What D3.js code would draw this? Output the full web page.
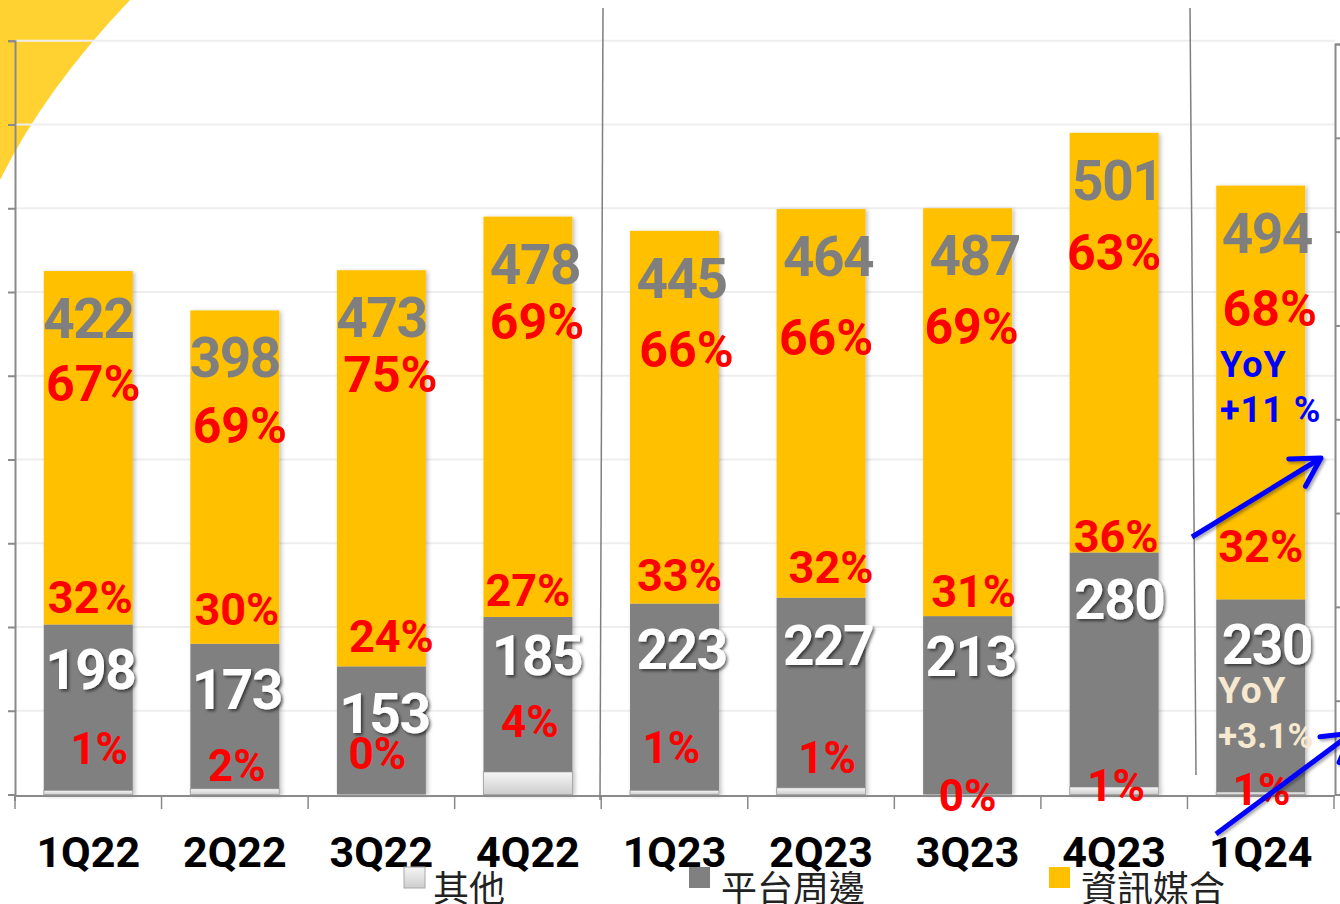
<!DOCTYPE html>
<html>
<head>
<meta charset="utf-8">
<script src="https://cdn.jsdelivr.net/npm/d3@7"></script>
<style>
  body { margin: 0; background: #fff; }
  svg { display: block; }
  .num { font-family: Roboto, "Open Sans", sans-serif; font-weight: 700; }
  .legend text { font-family: "Noto Sans CJK TC", "Noto Sans CJK SC", sans-serif; }
</style>
</head>
<body>
<svg id="chart" width="1340" height="904"></svg>
<script>
// ---- data ----
const quarters = ['1Q22', '2Q22', '3Q22', '4Q22', '1Q23', '2Q23', '3Q23', '4Q23', '1Q24'];
const infoValues = [422, 398, 473, 478, 445, 464, 487, 501, 494];      // 資訊媒合
const platformValues = [198, 173, 153, 185, 223, 227, 213, 280, 230];  // 平台周邊
const otherValues = [5, 7, 0, 27, 5, 8, 0, 9, 3];                      // 其他
const infoShare = ['67%', '69%', '75%', '69%', '66%', '66%', '69%', '63%', '68%'];
const platformShare = ['32%', '30%', '24%', '27%', '33%', '32%', '31%', '36%', '32%'];
const otherShare = ['1%', '2%', '0%', '4%', '1%', '1%', '0%', '1%', '1%'];
const seriesKeys = ['other', 'platform', 'info'];
const seriesNames = ['其他', '平台周邊', '資訊媒合'];
const yTicks = d3.range(0, 901, 100);
const rightTicks = d3.range(0, 9);

// ---- hand placed label nudges (px), like the text boxes in the original slide ----
const nudge = {
  totalDx:    [0, 0, 0, 7, 7, 7, 7, 3, 6],
  topPctDx:   [5, 5, 9, 9, 12, 5, 4, 0, 9],
  topPctDy:   [130, 133, 122, 122, 136, 146, 136, 137, 140],
  midPctDx:   [2, 2, 10, 0, 5, 10, 6, 2, 0],
  midPctDy:   [-11, -19, -14, -11, -13, -15, -9, 0, -37],
  platDx:     [2, 2, 3, 9, 7, 7, 3, 5, 6],
  platDy:     [65, 65, 67, 58, 65, 67, 60, 67, 65],
  lowPctDx:   [11, 2, -4, 2, -3, 6, 0, 2, 1],
  lowPctDy:   [-31, -14, -26, -58, -32, -22, 16, 6, 10]
};

const colors = { other: 'url(#otherGrad)', platform: '#808080', info: '#FFC000' };

const svg = d3.select('#chart');
const defs = svg.append('defs');

const grad = defs.append('linearGradient').attr('id', 'otherGrad')
    .attr('x1', 0).attr('y1', 0).attr('x2', 0).attr('y2', 1);
grad.append('stop').attr('offset', '0%').attr('stop-color', '#f6f6f6');
grad.append('stop').attr('offset', '100%').attr('stop-color', '#cdcdcd');

defs.append('filter').attr('id', 'barShadow').attr('x', '-10%').attr('width', '130%')
  .append('feDropShadow').attr('dx', 2).attr('dy', 1).attr('stdDeviation', 2)
    .attr('flood-color', '#000').attr('flood-opacity', 0.25);

defs.append('filter').attr('id', 'textShadow')
  .append('feDropShadow').attr('dx', 2).attr('dy', 2).attr('stdDeviation', 1.5)
    .attr('flood-color', '#000').attr('flood-opacity', 0.55);

defs.append('filter').attr('id', 'arrowShadow')
  .append('feDropShadow').attr('dx', 2).attr('dy', 2).attr('stdDeviation', 1.5)
    .attr('flood-color', '#000').attr('flood-opacity', 0.35);

defs.append('marker').attr('id', 'head')
    .attr('viewBox', '-7 -5 9 10').attr('refX', 0).attr('refY', 0)
    .attr('markerWidth', 9).attr('markerHeight', 10).attr('orient', 'auto')
  .append('path').attr('d', 'M-5.6,-3.2 L0,0 L-5.6,3.2')
    .attr('fill', 'none').attr('stroke', '#0000ff').attr('stroke-width', 1)
    .attr('stroke-linecap', 'round').attr('stroke-linejoin', 'round');

// decorative yellow corner
svg.append('path')
    .attr('d', 'M0,0 L130,0 Q45,89 0,180 Z')
    .attr('fill', '#FFD232');

// scales
const x = d3.scaleBand()
    .domain(quarters)
    .range([15, 1334])
    .paddingInner(0.393)
    .paddingOuter(0.1965);

const y = d3.scaleLinear()
    .domain([0, 900])
    .range([794.5, 40.75]);

const yRight = d3.scaleLinear()
    .domain([0, 8])
    .range([794.5, 44]);

// gridlines
svg.append('g').selectAll('line')
    .data(yTicks.slice(1))
  .join('line')
    .attr('x1', 15).attr('x2', 1335)
    .attr('y1', d => y(d)).attr('y2', d => y(d))
    .attr('stroke', '#eeeeee').attr('stroke-width', 2);

// stacked bars
const rows = quarters.map((q, i) => ({
  q, other: otherValues[i], platform: platformValues[i], info: infoValues[i]
}));
const stacked = d3.stack().keys(seriesKeys)(rows);

svg.append('g').attr('filter', 'url(#barShadow)')
  .selectAll('g')
    .data(stacked)
  .join('g')
    .attr('fill', d => colors[d.key])
    .attr('stroke', d => d.key === 'other' ? '#a8a8a8' : 'none')
    .attr('stroke-width', 1)
  .selectAll('rect')
    .data(d => d.filter(s => s[1] > s[0]))
  .join('rect')
    .attr('x', d => x(d.data.q))
    .attr('width', x.bandwidth())
    .attr('y', d => y(d[1]))
    .attr('height', d => y(d[0]) - y(d[1]));

// left axis
const leftAxis = svg.append('g')
    .attr('transform', 'translate(15,0)')
    .call(d3.axisLeft(y).tickValues(yTicks).tickSize(7).tickSizeOuter(7).tickFormat(''));
leftAxis.selectAll('path, line').attr('stroke', '#8a8a8a').attr('stroke-width', 2);
svg.append('line').attr('x1', 15).attr('x2', 15).attr('y1', y(0)).attr('y2', 801)
    .attr('stroke', '#8a8a8a').attr('stroke-width', 2);

// right (secondary) axis, mostly clipped off in the slide
const rightAxis = svg.append('g')
    .attr('transform', 'translate(1335,0)')
    .call(d3.axisRight(yRight).tickValues(rightTicks).tickSize(7).tickSizeOuter(7).tickFormat(''));
rightAxis.selectAll('path, line').attr('stroke', '#8a8a8a').attr('stroke-width', 2);

// bottom axis with ticks between categories
svg.append('line')
    .attr('x1', 15).attr('x2', 1335).attr('y1', 796).attr('y2', 796)
    .attr('stroke', '#8a8a8a').attr('stroke-width', 2);
svg.append('g').selectAll('line')
    .data(d3.range(quarters.length + 1))
  .join('line')
    .attr('x1', i => x.range()[0] + i * x.step())
    .attr('x2', i => x.range()[0] + i * x.step())
    .attr('y1', 796).attr('y2', 809)
    .attr('stroke', '#8a8a8a').attr('stroke-width', 1.5);

// period separators
svg.append('line').attr('x1', 603).attr('y1', 8).attr('x2', 600).attr('y2', 800)
    .attr('stroke', '#7f7f7f').attr('stroke-width', 1.5);
svg.append('line').attr('x1', 1190).attr('y1', 8).attr('x2', 1196).attr('y2', 775)
    .attr('stroke', '#7f7f7f').attr('stroke-width', 1.5);

// category labels
svg.append('g').selectAll('text')
    .data(quarters)
  .join('text')
    .attr('class', 'num')
    .attr('x', d => x(d) + x.bandwidth() / 2)
    .attr('y', 867)
    .attr('text-anchor', 'middle')
    .attr('font-size', 43)
    .attr('fill', '#000')
    .text(d => d);

// value labels
const cx = q => x(q) + x.bandwidth() / 2;
const barTop = i => y(otherValues[i] + platformValues[i] + infoValues[i]);
const darkTop = i => y(otherValues[i] + platformValues[i]);

function addLabels(texts, px, py, size, fill, filter, spacing) {
  svg.append('g').selectAll('text')
      .data(texts)
    .join('text')
      .attr('class', 'num')
      .attr('x', (d, i) => px(i))
      .attr('y', (d, i) => py(i))
      .attr('text-anchor', 'middle')
      .attr('font-size', size)
      .attr('letter-spacing', spacing || null)
      .attr('fill', fill)
      .attr('filter', filter || null)
      .text(d => d);
}

addLabels(infoValues, i => cx(quarters[i]) + nudge.totalDx[i], i => barTop(i) + 67, 55, '#7f7f7f', null, -1.5);
addLabels(infoShare, i => cx(quarters[i]) + nudge.topPctDx[i], i => barTop(i) + nudge.topPctDy[i], 50, '#ff0000');
addLabels(platformShare, i => cx(quarters[i]) + nudge.midPctDx[i], i => darkTop(i) + nudge.midPctDy[i], 45, '#ff0000');
addLabels(platformValues, i => cx(quarters[i]) + nudge.platDx[i], i => darkTop(i) + nudge.platDy[i], 55, '#ffffff', 'url(#textShadow)', -1.5);
addLabels(otherShare, i => cx(quarters[i]) + nudge.lowPctDx[i], i => y(0) + nudge.lowPctDy[i], 44, '#ff0000');

// YoY notes
const notes = svg.append('g').attr('class', 'num');
notes.append('text').attr('x', 1220).attr('y', 377).attr('font-size', 36)
    .attr('letter-spacing', 1).attr('fill', '#0000ff').text('YoY');
notes.append('text').attr('x', 1220).attr('y', 422).attr('font-size', 36)
    .attr('letter-spacing', 1).attr('fill', '#0000ff').text('+11 %');
notes.append('text').attr('x', 1218).attr('y', 703).attr('font-size', 37)
    .attr('letter-spacing', 1).attr('fill', '#f7e9cf').text('YoY');
notes.append('text').attr('x', 1218).attr('y', 748).attr('font-size', 35)
    .attr('fill', '#f7e9cf').text('+3.1%');

// arrows
const arrows = [
  [[1192, 537], [1321, 458]],
  [[1216, 834], [1352, 733]]
];
svg.append('g').attr('filter', 'url(#arrowShadow)').selectAll('line')
    .data(arrows)
  .join('line')
    .attr('x1', d => d[0][0]).attr('y1', d => d[0][1])
    .attr('x2', d => d[1][0]).attr('y2', d => d[1][1])
    .attr('stroke', '#0000ff').attr('stroke-width', 5)
    .attr('marker-end', 'url(#head)');

// legend
const legendItems = [
  { name: seriesNames[0], fill: 'url(#otherGrad)', stroke: '#a8a8a8', sx: 404, tx: 433 },
  { name: seriesNames[1], fill: '#808080', stroke: 'none', sx: 689, tx: 721 },
  { name: seriesNames[2], fill: '#FFC000', stroke: 'none', sx: 1049, tx: 1081 }
];
const legend = svg.append('g').attr('class', 'legend');
legend.selectAll('rect')
    .data(legendItems)
  .join('rect')
    .attr('x', d => d.sx).attr('y', 867)
    .attr('width', 21).attr('height', 21)
    .attr('fill', d => d.fill).attr('stroke', d => d.stroke);
legend.selectAll('text')
    .data(legendItems)
  .join('text')
    .attr('x', d => d.tx).attr('y', 902)
    .attr('font-size', 36)
    .attr('fill', '#222')
    .text(d => d.name);
</script>
</body>
</html>
